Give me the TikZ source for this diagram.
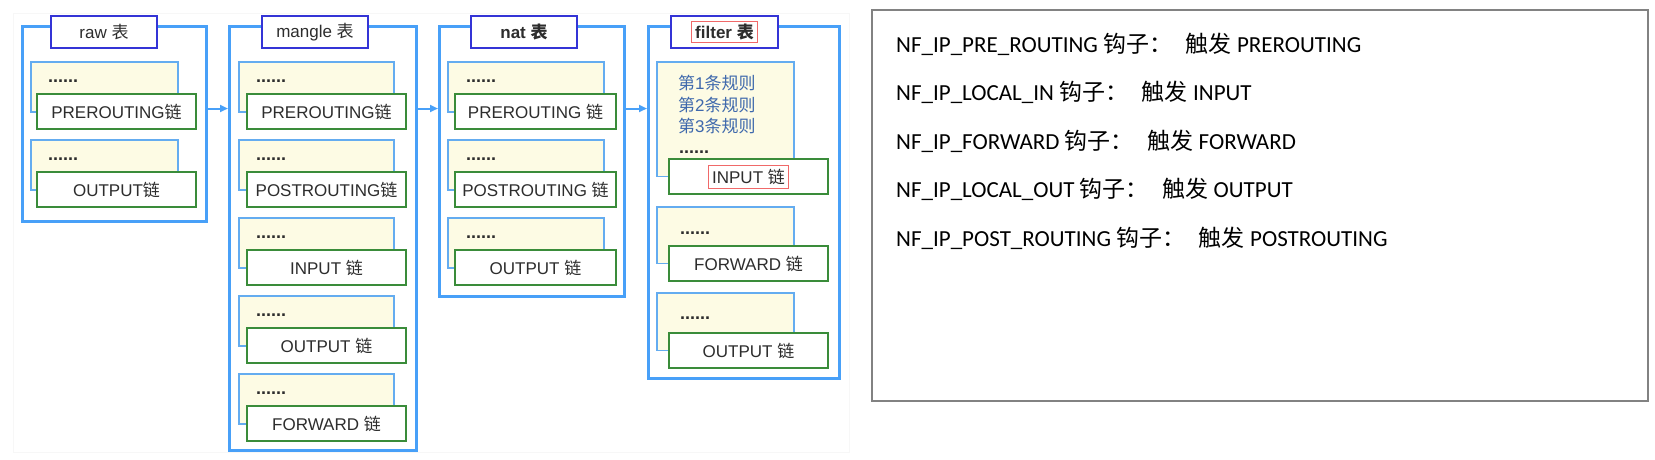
\documentclass[tikz,border=0pt]{standalone}
\usepackage{fontspec}
\setmainfont{Liberation Sans}
\newfontfamily\cjk{Noto Sans CJK SC}
\newfontfamily\calfont{Carlito}
\usepackage{xcolor}
\usetikzlibrary{arrows.meta, positioning, calc}

\definecolor{tblblue}{RGB}{72,160,248}
\definecolor{headblue}{RGB}{52,52,214}
\definecolor{ruleblue}{RGB}{100,172,240}
\definecolor{ruleyellow}{RGB}{253,251,228}
\definecolor{chaingreen}{RGB}{58,140,58}
\definecolor{hlred}{RGB}{240,105,105}
\definecolor{txtgray}{RGB}{45,45,45}
\definecolor{rulefont}{RGB}{62,104,172}
\definecolor{boxgray}{RGB}{130,130,130}

\newcommand{\zh}[1]{{\cjk #1}}

\begin{document}
\begin{tikzpicture}[
    x=1pt, y=-1pt,
    tbl/.style={draw=tblblue, line width=3pt, anchor=north west, inner sep=0pt},
    tblhead/.style={draw=headblue, line width=2.5pt, fill=white, minimum width=106pt,
                    minimum height=32pt, inner sep=0pt, font=\fontsize{17}{20}\selectfont, text=txtgray},
    rulebox/.style={draw=ruleblue, line width=1.5pt, fill=ruleyellow, anchor=north west, inner sep=0pt},
    chainbox/.style={draw=chaingreen, line width=2pt, fill=white, anchor=north west,
                     minimum height=35pt, inner sep=0pt, font=\fontsize{17}{20}\selectfont, text=txtgray},
    dotsline/.style={anchor=west, inner sep=0pt, font=\bfseries\fontsize{18}{20}\selectfont, text=txtgray},
    redbox/.style={draw=hlred, line width=1pt, inner xsep=4pt, inner ysep=0pt, minimum height=22pt,
                   font=\fontsize{17}{20}\selectfont, text=txtgray},
    rules/.style={anchor=west, inner sep=0pt, align=left, text=rulefont,
                  font=\fontsize{17}{21.5}\selectfont},
    arr/.style={-{Triangle[length=8pt,width=7pt]}, line width=2pt, tblblue},
    hook/.style={anchor=base west, inner sep=0pt, font=\calfont\fontsize{23}{25}\selectfont},
]
\useasboundingbox (0,0) rectangle (1655,459);
\draw[black!3] (13,13) rectangle (849,452);

% === raw ===
\node[tbl, minimum width=184pt, minimum height=195pt] (raw) at (21,25) {};
\node[tblhead] (rawT) at (104,32) {raw \zh{表}};
\node[rulebox, minimum width=147pt, minimum height=50pt] (rawR1) at (30,61) {};
\node[dotsline] (rawD1) at ([shift={(18pt,-20pt)}]rawR1.north west) {......};
\node[chainbox, minimum width=159pt] (rawPre) at ([shift={(6pt,-32pt)}]rawR1.north west) {PREROUTING\zh{链}};
\node[rulebox, minimum width=147pt, minimum height=50pt] (rawR2) at (30,139) {};
\node[dotsline] (rawD2) at ([shift={(18pt,-20pt)}]rawR2.north west) {......};
\node[chainbox, minimum width=159pt] (rawOut) at ([shift={(6pt,-32pt)}]rawR2.north west) {OUTPUT\zh{链}};

% === mangle ===
\node[tbl, minimum width=187pt, minimum height=424pt] (mangle) at (228,25) {};
\node[tblhead] (mangleT) at (315,32) {mangle \zh{表}};
\node[rulebox, minimum width=155pt, minimum height=50pt] (mangleR1) at (238,61) {};
\node[dotsline] (mangleD1) at ([shift={(18pt,-20pt)}]mangleR1.north west) {......};
\node[chainbox, minimum width=159pt] (manglePre) at ([shift={(8pt,-32pt)}]mangleR1.north west) {PREROUTING\zh{链}};
\node[rulebox, minimum width=155pt, minimum height=50pt] (mangleR2) at (238,139) {};
\node[dotsline] (mangleD2) at ([shift={(18pt,-20pt)}]mangleR2.north west) {......};
\node[chainbox, minimum width=159pt] (manglePost) at ([shift={(8pt,-32pt)}]mangleR2.north west) {POSTROUTING\zh{链}};
\node[rulebox, minimum width=155pt, minimum height=50pt] (mangleR3) at (238,217) {};
\node[dotsline] (mangleD3) at ([shift={(18pt,-20pt)}]mangleR3.north west) {......};
\node[chainbox, minimum width=159pt] (mangleIn) at ([shift={(8pt,-32pt)}]mangleR3.north west) {INPUT \zh{链}};
\node[rulebox, minimum width=155pt, minimum height=50pt] (mangleR4) at (238,295) {};
\node[dotsline] (mangleD4) at ([shift={(18pt,-20pt)}]mangleR4.north west) {......};
\node[chainbox, minimum width=159pt] (mangleOut) at ([shift={(8pt,-32pt)}]mangleR4.north west) {OUTPUT \zh{链}};
\node[rulebox, minimum width=155pt, minimum height=50pt] (mangleR5) at (238,373) {};
\node[dotsline] (mangleD5) at ([shift={(18pt,-20pt)}]mangleR5.north west) {......};
\node[chainbox, minimum width=159pt] (mangleFwd) at ([shift={(8pt,-32pt)}]mangleR5.north west) {FORWARD \zh{链}};

% === nat ===
\node[tbl, minimum width=185pt, minimum height=270pt] (nat) at (438,25) {};
\node[tblhead, font=\bfseries\fontsize{17}{20}\selectfont] (natT) at (524,32) {nat \zh{表}};
\node[rulebox, minimum width=156pt, minimum height=50pt] (natR1) at (447,61) {};
\node[dotsline] (natD1) at ([shift={(19pt,-20pt)}]natR1.north west) {......};
\node[chainbox, minimum width=161pt] (natPre) at ([shift={(7pt,-32pt)}]natR1.north west) {PREROUTING \zh{链}};
\node[rulebox, minimum width=156pt, minimum height=50pt] (natR2) at (447,139) {};
\node[dotsline] (natD2) at ([shift={(19pt,-20pt)}]natR2.north west) {......};
\node[chainbox, minimum width=161pt] (natPost) at ([shift={(7pt,-32pt)}]natR2.north west) {POSTROUTING \zh{链}};
\node[rulebox, minimum width=156pt, minimum height=50pt] (natR3) at (447,217) {};
\node[dotsline] (natD3) at ([shift={(19pt,-20pt)}]natR3.north west) {......};
\node[chainbox, minimum width=161pt] (natOut) at ([shift={(7pt,-32pt)}]natR3.north west) {OUTPUT \zh{链}};

% === filter ===
\node[tbl, minimum width=191pt, minimum height=352pt] (filter) at (647,25) {};
\node[tblhead, minimum width=107pt] (filterT) at (724.5,32) {};
\node[redbox, font=\bfseries\fontsize{17}{20}\selectfont, minimum height=21pt] (filterTxt) at (filterT) {filter \zh{表}};
\node[rulebox, minimum width=137pt, minimum height=114.5pt] (filterR1) at (656,61) {};
\node[rules] (filterRules) at (678,104.5) {\zh{第}1\zh{条规则}\\\zh{第}2\zh{条规则}\\\zh{第}3\zh{条规则}};
\node[dotsline] (filterD1) at ([shift={(23pt,-91pt)}]filterR1.north west) {......};
\node[chainbox, minimum width=159pt] (filterIn) at ([shift={(12pt,-97pt)}]filterR1.north west) {};
\node[redbox, minimum height=23pt] (filterInTxt) at (filterIn) {INPUT \zh{链}};
\node[rulebox, minimum width=137pt, minimum height=56.5pt] (filterR2) at (656,206) {};
\node[dotsline] (filterD2) at ([shift={(24pt,-27pt)}]filterR2.north west) {......};
\node[chainbox, minimum width=159pt] (filterFwd) at ([shift={(12pt,-39pt)}]filterR2.north west) {FORWARD \zh{链}};
\node[rulebox, minimum width=137pt, minimum height=57.5pt] (filterR3) at (656,292) {};
\node[dotsline] (filterD3) at ([shift={(24pt,-26pt)}]filterR3.north west) {......};
\node[chainbox, minimum width=159pt] (filterOut) at ([shift={(12pt,-40pt)}]filterR3.north west) {OUTPUT \zh{链}};

% === flow between tables ===
\coordinate (flow) at ([yshift=15.5pt]raw.east);
\draw[arr] (raw.east |- flow) -- (mangle.west |- flow);
\draw[arr] (mangle.east |- flow) -- (nat.west |- flow);
\draw[arr] (nat.east |- flow) -- (filter.west |- flow);

% === hooks ===
\node[draw=boxgray, line width=2pt, anchor=north west, minimum width=776pt, minimum height=391pt, inner sep=0pt] (hooks) at (871,9) {};
\node[hook] (h1) at (896,52) {NF\_IP\_PRE\_ROUTING \zh{钩子：\hspace{0.6em}触发} PREROUTING};
\node[hook] (h2) at (896,100.5) {NF\_IP\_LOCAL\_IN \zh{钩子：\hspace{0.6em}触发} INPUT};
\node[hook] (h3) at (896,149) {NF\_IP\_FORWARD \zh{钩子：\hspace{0.6em}触发} FORWARD};
\node[hook] (h4) at (896,197.5) {NF\_IP\_LOCAL\_OUT \zh{钩子：\hspace{0.6em}触发} OUTPUT};
\node[hook] (h5) at (896,246) {NF\_IP\_POST\_ROUTING \zh{钩子：\hspace{0.6em}触发} POSTROUTING};

\end{tikzpicture}
\end{document}
